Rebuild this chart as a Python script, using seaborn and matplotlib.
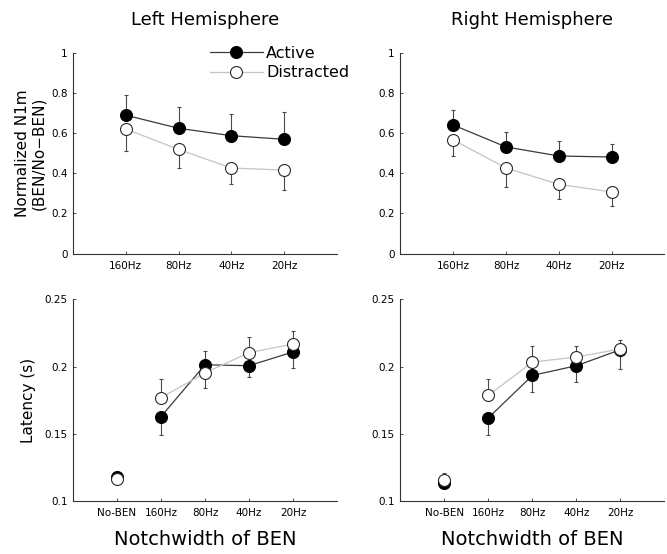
import numpy as np
import pandas as pd
import matplotlib
matplotlib.use("Agg")
import matplotlib.pyplot as plt
import seaborn as sns

# ---------------- data ----------------
freq_labels = ["160Hz", "80Hz", "40Hz", "20Hz"]
lat_labels = ["No-BEN", "160Hz", "80Hz", "40Hz", "20Hz"]

n1m_left_active = [0.689, 0.624, 0.587, 0.569]
n1m_left_active_err = [0.101, 0.104, 0.108, 0.136]
n1m_left_distr = [0.620, 0.519, 0.426, 0.416]
n1m_left_distr_err = [0.109, 0.094, 0.081, 0.098]

n1m_right_active = [0.640, 0.531, 0.486, 0.481]
n1m_right_active_err = [0.073, 0.073, 0.075, 0.065]
n1m_right_distr = [0.566, 0.426, 0.345, 0.307]
n1m_right_distr_err = [0.082, 0.093, 0.073, 0.070]

lat_left_active = [0.1175, 0.1627, 0.2013, 0.2006, 0.2108]
lat_left_active_err = [0.002, 0.014, 0.010, 0.0086, 0.0119]
lat_left_distr = [0.1163, 0.1768, 0.1952, 0.2103, 0.2167]
lat_left_distr_err = [0.002, 0.014, 0.0114, 0.0117, 0.0097]

lat_right_active = [0.1137, 0.1619, 0.1934, 0.2006, 0.2125]
lat_right_active_err = [0.002, 0.013, 0.0124, 0.0119, 0.0145]
lat_right_distr = [0.1155, 0.1786, 0.2033, 0.2071, 0.2130]
lat_right_distr_err = [0.005, 0.0124, 0.0117, 0.0079, 0.007]

n1m_yticks = [0, 0.2, 0.4, 0.6, 0.8, 1]
n1m_yticklabels = ["0", "0.2", "0.4", "0.6", "0.8", "1"]
lat_yticks = [0.1, 0.15, 0.2, 0.25]
lat_yticklabels = ["0.1", "0.15", "0.2", "0.25"]

titles = ["Left Hemisphere", "Right Hemisphere"]
series_names = ["Active", "Distracted"]

# ---------------- style ----------------
sns.set_style("ticks")
plt.rcParams["font.family"] = ["DejaVu Sans"]
plt.rcParams.update({
    "xtick.direction": "in", "ytick.direction": "in",
    "xtick.major.size": 2.5, "ytick.major.size": 2.5,
    "xtick.major.width": 0.6, "ytick.major.width": 0.6,
    "axes.linewidth": 0.8, "axes.edgecolor": "#333333",
    "xtick.color": "#333333", "ytick.color": "#333333",
    "xtick.labelcolor": "black", "ytick.labelcolor": "black",
    "text.color": "black", "axes.labelcolor": "black",
    "axes.titlecolor": "black",
    "xtick.labelsize": 7.5, "ytick.labelsize": 7.5,
    "xtick.major.pad": 5, "ytick.major.pad": 4,
})

ACT_LINE = "#3a3a3a"
DIS_LINE = "#c4c4c4"
ERR_COL = "#4a4a4a"
MS = 8.6

fig = plt.figure(figsize=(6.67, 5.54), dpi=100)
ax_tl = fig.add_axes([0.1094, 0.5421, 0.3958, 0.3628])
ax_tr = fig.add_axes([0.6004, 0.5421, 0.3958, 0.3628])
ax_bl = fig.add_axes([0.1094, 0.0957, 0.3958, 0.3641])
ax_br = fig.add_axes([0.6004, 0.0957, 0.3958, 0.3641])


def panel(ax, cats, a, ae, d, de, first_connected, with_label=False):
    pos = np.arange(len(cats))
    a = np.asarray(a); d = np.asarray(d)
    ae = np.asarray(ae); de = np.asarray(de)
    a_up = a >= d
    # one-sided, outward error bars
    ax.errorbar(pos, a, yerr=[np.where(a_up, 0, ae), np.where(a_up, ae, 0)],
                fmt="none", ecolor=ERR_COL, elinewidth=0.8, capsize=1.6,
                capthick=0.8, zorder=1)
    ax.errorbar(pos, d, yerr=[np.where(a_up, de, 0), np.where(a_up, 0, de)],
                fmt="none", ecolor=ERR_COL, elinewidth=0.8, capsize=1.6,
                capthick=0.8, zorder=1)
    df = pd.DataFrame({"x": pos, "a": a, "d": d})
    conn = df.iloc[first_connected:]
    sns.lineplot(data=conn, x="x", y="a", ax=ax, color=ACT_LINE, lw=0.9,
                 marker="o", markersize=MS, markerfacecolor="black",
                 markeredgecolor="black", markeredgewidth=0.8,
                 errorbar=None, zorder=3,
                 label=series_names[0] if with_label else None)
    sns.lineplot(data=conn, x="x", y="d", ax=ax, color=DIS_LINE, lw=0.9,
                 marker="o", markersize=MS, markerfacecolor="white",
                 markeredgecolor="#2a2a2a", markeredgewidth=0.8,
                 errorbar=None, zorder=4,
                 label=series_names[1] if with_label else None)
    if first_connected > 0:
        single = df.iloc[:first_connected]
        sns.lineplot(data=single, x="x", y="a", ax=ax, lw=0, marker="o",
                     markersize=MS, markerfacecolor="black",
                     markeredgecolor="black", markeredgewidth=0.8,
                     errorbar=None, zorder=3)
        sns.lineplot(data=single, x="x", y="d", ax=ax, lw=0, marker="o",
                     markersize=MS, markerfacecolor="white",
                     markeredgecolor="#2a2a2a", markeredgewidth=0.8,
                     errorbar=None, zorder=4)
    ax.set_xticks(pos)
    ax.set_xticklabels(cats)
    ax.set_xlim(-1, len(cats))
    ax.set_xlabel("")
    ax.set_ylabel("")
    sns.despine(ax=ax)
    leg = ax.get_legend()
    if leg is not None:
        leg.remove()


panel(ax_tl, freq_labels, n1m_left_active, n1m_left_active_err,
      n1m_left_distr, n1m_left_distr_err, 0, with_label=True)
panel(ax_tr, freq_labels, n1m_right_active, n1m_right_active_err,
      n1m_right_distr, n1m_right_distr_err, 0)
panel(ax_bl, lat_labels, lat_left_active, lat_left_active_err,
      lat_left_distr, lat_left_distr_err, 1)
panel(ax_br, lat_labels, lat_right_active, lat_right_active_err,
      lat_right_distr, lat_right_distr_err, 1)

for ax, title in zip([ax_tl, ax_tr], titles):
    ax.set_ylim(0, 1)
    ax.set_yticks(n1m_yticks)
    ax.set_yticklabels(n1m_yticklabels)
    ax.set_title(title, fontsize=13, pad=20)

for ax in [ax_bl, ax_br]:
    ax.set_ylim(0.1, 0.25)
    ax.set_yticks(lat_yticks)
    ax.set_yticklabels(lat_yticklabels)
    ax.set_xlabel("Notchwidth of BEN", fontsize=14, labelpad=9)

ax_tl.set_ylabel("Normalized N1m\n(BEN/No\u2212BEN)", fontsize=11,
                 labelpad=3, linespacing=1.12)
ax_bl.set_ylabel("Latency (s)", fontsize=11, labelpad=6)

handles, labels = ax_tl.get_legend_handles_labels()
ax_tl.legend(handles, labels, loc="upper left", bbox_to_anchor=(0.519, 1.035),
             frameon=False, fontsize=11.5, handlelength=3.3,
             handletextpad=0.2, labelspacing=0.3, borderpad=0,
             borderaxespad=0)

fig.savefig("out.png", dpi=100)
